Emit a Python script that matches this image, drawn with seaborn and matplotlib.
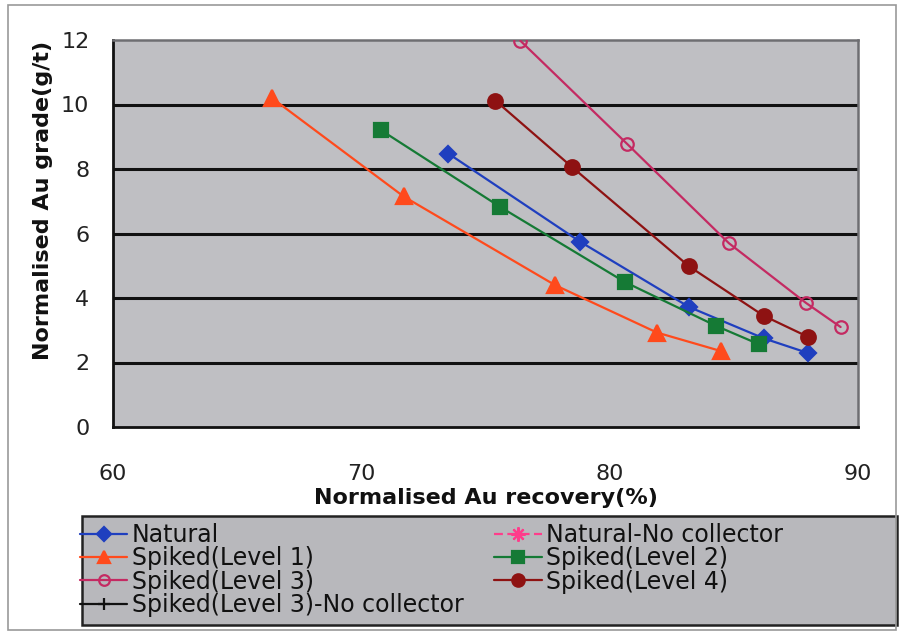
import matplotlib
matplotlib.use("Agg")
import matplotlib.pyplot as plt
import seaborn as sns

# Flotation grade-recovery data
natural_rec = [73.5, 78.8, 83.2, 86.2, 88.0]
natural_grade = [8.48, 5.75, 3.72, 2.75, 2.29]

natural_nc_rec = []
natural_nc_grade = []

level1_rec = [66.4, 71.7, 77.8, 81.9, 84.5]
level1_grade = [10.2, 7.15, 4.40, 2.93, 2.35]

level2_rec = [70.8, 75.6, 80.6, 84.3, 86.0]
level2_grade = [9.2, 6.82, 4.50, 3.13, 2.57]

level3_rec = [76.4, 80.7, 84.8, 87.9, 89.3]
level3_grade = [11.98, 8.78, 5.70, 3.85, 3.10]

level4_rec = [75.4, 78.5, 83.2, 86.2, 88.0]
level4_grade = [10.12, 8.05, 4.98, 3.45, 2.79]

level3_nc_rec = []
level3_nc_grade = []

x_ticks = [60, 70, 80, 90]
y_ticks = [0, 2, 4, 6, 8, 10, 12]

sns.set_theme(style="white")
plt.rcParams["font.family"] = ["DejaVu Sans"]

W, H = 900, 636
fig = plt.figure(figsize=(W / 100, H / 100), dpi=100)


def fx(px):
    return px / W


def fy(py):
    return 1 - py / H


ax = fig.add_axes([fx(113), fy(427), fx(858) - fx(113), fy(40) - fy(427)])
ax.set_facecolor("#bfbfc3")

series = [
    ("Natural", natural_rec, natural_grade, "#1f3fbf", "D", 8.5, "#1f3fbf", "-"),
    ("Spiked(Level 1)", level1_rec, level1_grade, "#ff4a1c", "^", 11, "#ff4a1c", "-"),
    ("Spiked(Level 3)", level3_rec, level3_grade, "#c42a62", "o", 9, "none", "-"),
    ("Spiked(Level 3)-No collector", level3_nc_rec, level3_nc_grade, "#111111", "+", 10, "#111111", "-"),
    ("Natural-No collector", natural_nc_rec, natural_nc_grade, "#ff3d8b", (8, 2, 0), 12, "#ff3d8b", (0, (4, 2))),
    ("Spiked(Level 2)", level2_rec, level2_grade, "#157a35", "s", 10, "#157a35", "-"),
    ("Spiked(Level 4)", level4_rec, level4_grade, "#8e1212", "o", 10.5, "#8e1212", "-"),
]

handles = []
for name, xs, ys, col, mk, ms, mfc, ls in series:
    if len(xs):
        sns.lineplot(x=xs, y=ys, ax=ax, color=col, marker=mk, markersize=ms,
                     markerfacecolor=mfc, markeredgecolor=col, markeredgewidth=1.6,
                     linewidth=1.6, linestyle=ls, sort=False, estimator=None,
                     legend=False, zorder=3)
    h, = ax.plot([], [], color=col, marker=mk, markersize=ms * 0.85, markerfacecolor=mfc,
                 markeredgecolor=col, markeredgewidth=1.6, linewidth=1.6,
                 linestyle=ls, label=name)
    handles.append(h)

ax.set_xlim(60, 90)
ax.set_ylim(0, 12)
ax.set_xticks(x_ticks)
ax.set_yticks(y_ticks)
for yv in y_ticks[1:-1]:
    ax.axhline(yv, color="#111111", linewidth=2.2, zorder=1)
ax.grid(False)

for side in ["left", "bottom"]:
    ax.spines[side].set_color("#111111")
    ax.spines[side].set_linewidth(2.0)
for side in ["top", "right"]:
    ax.spines[side].set_color("#6e6e72")
    ax.spines[side].set_linewidth(1.8)

ax.tick_params(axis="both", which="major", direction="out", length=9, width=1.8,
               color="#111111", labelsize=16, labelcolor="#222222")
ax.tick_params(axis="y", pad=8)
ax.tick_params(axis="x", pad=18)

ax.set_xlabel("Normalised Au recovery(%)", fontsize=16, fontweight="bold", color="#111111")
ax.set_ylabel("Normalised Au grade(g/t)", fontsize=16, fontweight="bold", color="#111111")
ax.xaxis.set_label_coords(0.5, -0.158)
ax.yaxis.set_label_coords(-0.080, 0.585)

# legend box
fig.patches.append(plt.Rectangle((fx(82), fy(625)), fx(897) - fx(82), fy(516) - fy(625),
                                 transform=fig.transFigure, facecolor="#b8b8bc",
                                 edgecolor="#222222", linewidth=1.8, zorder=1))
leg = fig.legend(handles=handles, loc="upper left", ncol=2,
                 bbox_to_anchor=(fx(80), fy(523)),
                 fontsize=17, frameon=False, handlelength=2.0,
                 handletextpad=0.2, labelspacing=-0.03, borderpad=0.0,
                 borderaxespad=0.0, columnspacing=1.3)
leg.set_zorder(2)
for t in leg.get_texts():
    t.set_color("#111111")

# outer frame around the whole figure
fig.patches.append(plt.Rectangle((fx(8), fy(630)), fx(896) - fx(8), fy(5) - fy(630),
                                 transform=fig.transFigure, fill=False,
                                 edgecolor="#999999", linewidth=1.2))

fig.savefig("out.png", dpi=100)
